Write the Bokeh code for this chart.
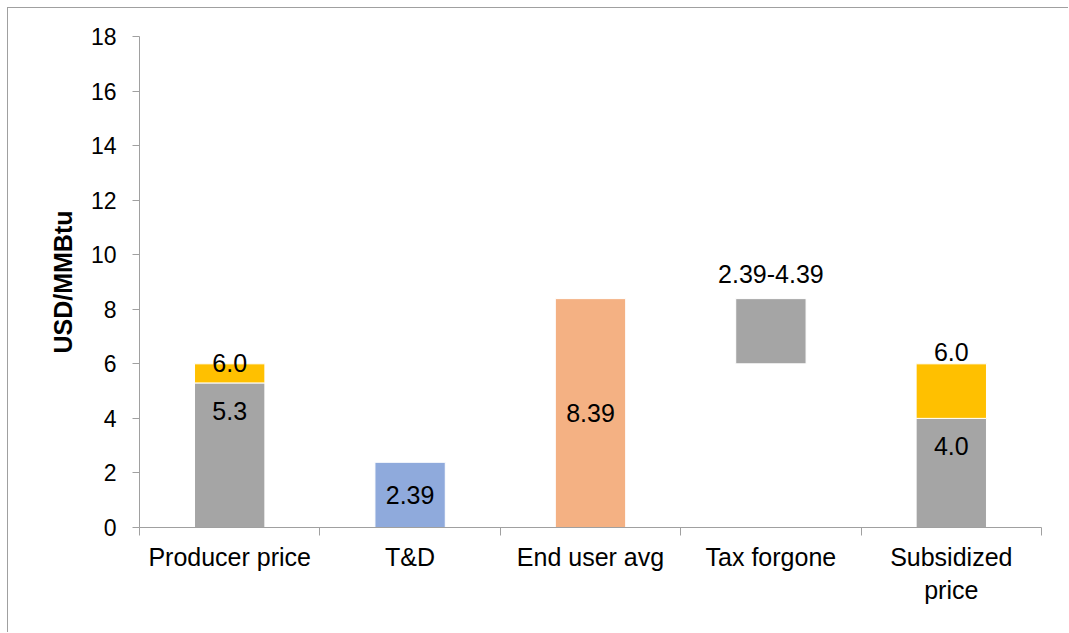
from bokeh.plotting import figure
from bokeh.models import FixedTicker, Range1d
from bokeh.core.properties import value
from bokeh.embed import file_html
from bokeh.resources import INLINE

# ---- data ----
categories = ["Producer price", "T&D", "End user avg", "Tax forgone", "Subsidized\nprice"]
base_bottom = [0.0, 0.0, 0.0, 6.0, 0.0]
base_top = [5.3, 2.39, 8.39, 8.39, 4.0]
base_colors = ["#a5a5a5", "#8faadc", "#f4b183", "#a5a5a5", "#a5a5a5"]
extra_cat = [0, 4]            # category index of the yellow top segments
extra_bottom = [5.3, 4.0]
extra_top = [6.0, 6.0]
y_ticks = [0, 2, 4, 6, 8, 10, 12, 14, 16, 18]

FONT = "Liberation Sans"

xs = [i + 0.5 for i in range(len(categories))]

p = figure(width=1061, height=625, output_backend="svg", toolbar_location=None,
           x_range=Range1d(0, len(categories)), y_range=Range1d(0, 18),
           min_border_left=131, min_border_right=28, min_border_top=28, min_border_bottom=106)
p.styles = {"margin-left": "7px", "margin-top": "7px",
            "border-left": "1px solid #a0a0a0", "border-top": "1px solid #a0a0a0"}
p.outline_line_color = None
p.border_fill_color = "white"
p.grid.grid_line_color = None
p.background_fill_color = "white"

p.vbar(x=xs, bottom=base_bottom, top=base_top, width=0.39,
       fill_color=base_colors, line_color="white", line_width=1)
p.vbar(x=[xs[i] for i in extra_cat], bottom=extra_bottom, top=extra_top, width=0.39,
       fill_color="#ffc000", line_color="white", line_width=1)

# labels
txt = dict(text_font=value(FONT), text_font_size="25px", text_color="black", text_align="center")
# totals above the yellow segments
p.text(x=[xs[extra_cat[0]]], y=[extra_top[0]], text=[f"{extra_top[0]:.1f}"],
       text_baseline="alphabetic", y_offset=-1, **txt)
p.text(x=[xs[extra_cat[1]]], y=[extra_top[1]], text=[f"{extra_top[1]:.1f}"],
       text_baseline="alphabetic", y_offset=-12, **txt)
# inside-top labels of grey bases
p.text(x=[xs[0], xs[4]], y=[base_top[0], base_top[4]],
       text=[f"{base_top[0]:.1f}", f"{base_top[4]:.1f}"],
       text_baseline="middle", y_offset=28, **txt)
# centred labels
p.text(x=[xs[1], xs[2]], y=[base_top[1] / 2, base_top[2] / 2],
       text=[f"{base_top[1]:.2f}", f"{base_top[2]:.2f}"],
       text_baseline="middle", **txt)
# tax forgone range label
p.text(x=[xs[3]], y=[base_top[3]],
       text=[f"{base_top[1]:.2f}-{base_top[1] + 2:.2f}"],
       text_baseline="alphabetic", y_offset=-25, **txt)

# axes
ax = p.xaxis[0]
ax.ticker = FixedTicker(ticks=xs, minor_ticks=list(range(len(categories) + 1)))
ax.major_label_overrides = {x: c for x, c in zip(xs, categories)}
ax.major_tick_line_color = None
ax.minor_tick_line_color = "#a0a0a0"
ax.minor_tick_out = 8
ax.minor_tick_in = 0
ax.axis_line_color = "#a0a0a0"
ax.major_label_text_font = FONT
ax.major_label_text_font_size = "25px"
ax.major_label_text_color = "black"
ax.major_label_standoff = 7

ay = p.yaxis[0]
ay.ticker = FixedTicker(ticks=y_ticks)
ay.minor_tick_line_color = None
ay.major_tick_line_color = "#a0a0a0"
ay.major_tick_out = 7
ay.major_tick_in = 0
ay.axis_line_color = "#a0a0a0"
ay.major_label_text_font = FONT
ay.major_label_text_font_size = "23px"
ay.major_label_text_color = "black"
ay.major_label_standoff = 16
ay.axis_label = "USD/MMBtu"
ay.axis_label_text_font = FONT
ay.axis_label_text_font_size = "25px"
ay.axis_label_text_font_style = "bold"
ay.axis_label_text_color = "black"
ay.axis_label_standoff = 11

open("out.html", "w").write(file_html(p, INLINE))
